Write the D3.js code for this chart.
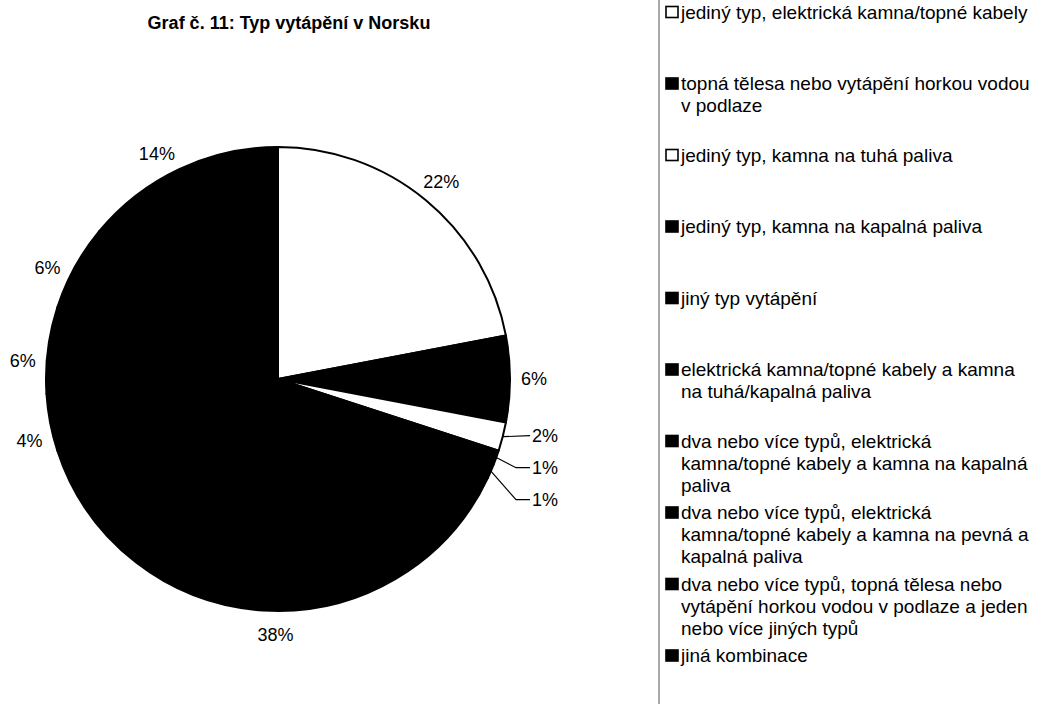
<!DOCTYPE html>
<html>
<head>
<meta charset="utf-8">
<script src="https://cdn.jsdelivr.net/npm/d3@7"></script>
<style>
  body { margin: 0; background: #fff; }
  svg text { font-family: "Liberation Sans", Arial, sans-serif; fill: #000; }
</style>
</head>
<body>
<div></div>
<script>
// data
var categories = [
  "jediný typ, elektrická kamna/topné kabely",
  "topná tělesa nebo vytápění horkou vodou\nv podlaze",
  "jediný typ, kamna na tuhá paliva",
  "jediný typ, kamna na kapalná paliva",
  "jiný typ vytápění",
  "elektrická kamna/topné kabely a kamna\nna tuhá/kapalná paliva",
  "dva nebo více typů, elektrická\nkamna/topné kabely a kamna na kapalná\npaliva",
  "dva nebo více typů, elektrická\nkamna/topné kabely a kamna na pevná a\nkapalná paliva",
  "dva nebo více typů, topná tělesa nebo\nvytápění horkou vodou v podlaze a jeden\nnebo více jiných typů",
  "jiná kombinace"
];
var values = [22, 6, 2, 1, 1, 38, 4, 6, 6, 14];
var title = "Graf č. 11: Typ vytápění v Norsku";

// set the dimensions
var width = 1037, height = 704;
var cx = 278, cy = 379, radius = 232;

var color = d3.scaleOrdinal()
    .domain(categories)
    .range(["#fff", "#000", "#fff", "#000", "#000", "#000", "#000", "#000", "#000", "#000"]);

var data = categories.map(function(c, i) { return {name: c, value: values[i]}; });

var svg = d3.select("body").select("div").append("svg")
    .attr("width", width)
    .attr("height", height);

// title
svg.append("text")
    .attr("x", 289)
    .attr("y", 29)
    .attr("text-anchor", "middle")
    .style("font-size", "18px")
    .style("font-weight", "bold")
    .text(title);

var pie = d3.pie()
    .sort(null)
    .value(function(d) { return d.value; });

var arcs = pie(data);

var arc = d3.arc().innerRadius(0).outerRadius(radius);

var g = svg.append("g")
    .attr("transform", "translate(" + cx + "," + cy + ")");

g.selectAll("path")
    .data(arcs)
    .enter().append("path")
    .attr("d", arc)
    .attr("fill", function(d) { return color(d.data.name); })
    .attr("stroke", "#000")
    .attr("stroke-width", 2)
    .attr("stroke-linejoin", "round");

// small slices get leader lines
var small = arcs.filter(function(d) { return d.data.value <= 2; });
var big = arcs.filter(function(d) { return d.data.value > 2; });

// labels on the left half sit a little further round (like the original)
function labelPos(d) {
  var a = (d.startAngle + d.endAngle) / 2;
  if (a > Math.PI) a -= 0.053;
  return [Math.sin(a) * 256, -Math.cos(a) * 256];
}

g.selectAll("text.big")
    .data(big)
    .enter().append("text")
    .attr("class", "big")
    .attr("transform", function(d) { return "translate(" + labelPos(d) + ")"; })
    .attr("text-anchor", "middle")
    .attr("dy", "0.35em")
    .style("font-size", "18px")
    .text(function(d) { return d.data.value + "%"; });

// stack the small labels so they don't overlap
var lastY = -Infinity;
small.forEach(function(d) {
  var a = (d.startAngle + d.endAngle) / 2;
  var y = -Math.cos(a) * 228;
  if (y < lastY + 32) y = lastY + 32;
  lastY = y;
  d.ly = y;
  d.sx = Math.sin(a) * radius;
  d.sy = -Math.cos(a) * radius;
});

g.selectAll("polyline.leader")
    .data(small)
    .enter().append("polyline")
    .attr("class", "leader")
    .attr("fill", "none")
    .attr("stroke", "#000")
    .attr("stroke-width", 1.2)
    .attr("points", function(d) {
      var ex = 252, kx = 238;
      if (Math.abs(d.ly - d.sy) < 8) return [[d.sx, d.sy], [ex, d.ly]].join(" ");
      return [[d.sx, d.sy], [kx, d.ly], [ex, d.ly]].join(" ");
    });

g.selectAll("text.small")
    .data(small)
    .enter().append("text")
    .attr("class", "small")
    .attr("x", 254)
    .attr("y", function(d) { return d.ly; })
    .attr("dy", "0.35em")
    .style("font-size", "18px")
    .text(function(d) { return d.data.value + "%"; });

// legend
svg.append("line")
    .attr("x1", 659).attr("x2", 659)
    .attr("y1", 0).attr("y2", height)
    .attr("stroke", "#555")
    .attr("stroke-width", 1);

var legend = svg.selectAll("g.legend")
    .data(data)
    .enter().append("g")
    .attr("class", "legend")
    .attr("transform", function(d, i) { return "translate(665," + (12 + i * 71.5) + ")"; });

legend.append("rect")
    .attr("x", 1).attr("y", -5.5)
    .attr("width", 12).attr("height", 11)
    .attr("fill", function(d) { return color(d.name); })
    .attr("stroke", "#000")
    .attr("stroke-width", 1.6);

legend.append("text")
    .attr("x", 16)
    .style("font-size", "19px")
    .selectAll("tspan")
    .data(function(d) { return d.name.split("\n"); })
    .enter().append("tspan")
    .attr("x", 16)
    .attr("y", function(d, i) { return i * 22; })
    .attr("dy", "0.35em")
    .text(function(d) { return d; });
</script>
</body>
</html>
